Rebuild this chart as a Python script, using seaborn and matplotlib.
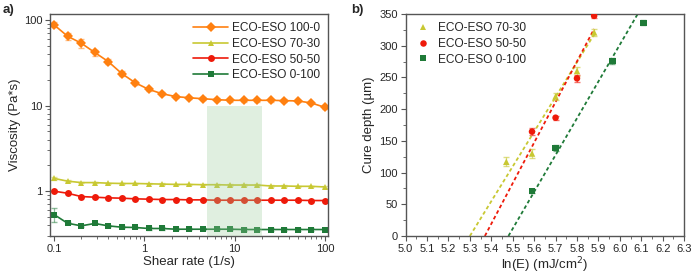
import numpy as np
import pandas as pd
import matplotlib
matplotlib.use("Agg")
import matplotlib.pyplot as plt
import matplotlib.ticker as mticker
import seaborn as sns

# ---- panel a) viscosity vs shear rate ----
shear_rate = [0.1, 0.141, 0.2, 0.282, 0.398, 0.562, 0.794, 1.12, 1.58, 2.24, 3.16,
              4.47, 6.31, 8.91, 12.6, 17.8, 25.1, 35.5, 50.1, 70.8, 100]
visc_100_0 = [87.4, 64.4, 53.4, 41.6, 32.6, 23.6, 18.4, 15.4, 13.7, 12.7, 12.3,
              12.0, 11.7, 11.5, 11.5, 11.5, 11.5, 11.4, 11.3, 10.7, 9.5]
err_100_0 = [6, 5.8, 7, 3.3, 2.3, 1.6, 1.1, 0.6, 0.5, 0.4, 0.4,
             0.4, 0.4, 0.4, 0.4, 0.4, 0.4, 0.4, 0.4, 0.4, 0.3]
visc_70_30 = [1.41, 1.31, 1.26, 1.26, 1.24, 1.23, 1.23, 1.22, 1.21, 1.20, 1.20,
              1.19, 1.19, 1.18, 1.18, 1.18, 1.15, 1.15, 1.14, 1.14, 1.12]
err_70_30 = [0.06, 0.03, 0.02, 0.02, 0.02, 0.02, 0.02, 0.02, 0.02, 0.02, 0.02,
             0.02, 0.02, 0.02, 0.02, 0.02, 0.02, 0.02, 0.02, 0.02, 0.02]
visc_50_50 = [1.0, 0.947, 0.866, 0.851, 0.836, 0.829, 0.814, 0.807, 0.799, 0.799, 0.792,
              0.792, 0.785, 0.785, 0.785, 0.785, 0.785, 0.785, 0.785, 0.778, 0.778]
err_50_50 = [0.02] * 21
visc_0_100 = [0.534, 0.423, 0.394, 0.420, 0.394, 0.380, 0.377, 0.367, 0.367, 0.360, 0.360,
              0.360, 0.360, 0.360, 0.357, 0.357, 0.357, 0.357, 0.357, 0.357, 0.357]
err_0_100 = [0.1] + [0.01] * 20
shade_range = [5, 20]

# ---- panel b) cure depth vs ln(E) ----
lnE_70_30 = [5.47, 5.59, 5.70, 5.80, 5.88]
cd_70_30 = [117, 130, 220, 260, 321]
cderr_70_30 = [7, 7, 6, 7, 5]
lnE_50_50 = [5.59, 5.70, 5.80, 5.88]
cd_50_50 = [164.5, 186.5, 248.5, 347]
cderr_50_50 = [5, 3, 6, 4]
lnE_0_100 = [5.59, 5.70, 5.965, 6.11]
cd_0_100 = [71, 139, 276, 336]
cderr_0_100 = [3, 5, 5, 4]
# working-curve fits: Cd = Dp * (ln E - ln Ec)
fit_lnEc = [5.30, 5.37, 5.48]
fit_Dp = [548, 640, 580]
fit_end = [5.88, 5.88, 6.2]

names = ["ECO-ESO 100-0", "ECO-ESO 70-30", "ECO-ESO 50-50", "ECO-ESO 0-100"]
colors = ["#ff8010", "#c8c832", "#ee1a0a", "#1f7a38"]
markers = ["D", "^", "o", "s"]

sns.set_style("ticks")
plt.rcParams["font.family"] = ["Liberation Sans", "DejaVu Sans"]

fig = plt.figure(figsize=(6.91, 2.74), dpi=100)
axa = fig.add_axes([0.0724, 0.1387, 0.4023, 0.8103])
axb = fig.add_axes([0.587, 0.1387, 0.403, 0.8103])

# panel a
visc = [visc_100_0, visc_70_30, visc_50_50, visc_0_100]
errs = [err_100_0, err_70_30, err_50_50, err_0_100]
df_a = pd.concat([pd.DataFrame({"rate": shear_rate, "visc": v, "err": e, "sample": n})
                  for v, e, n in zip(visc, errs, names)])
sns.lineplot(data=df_a, x="rate", y="visc", hue="sample", style="sample",
             palette=colors, markers=markers, dashes=False, markersize=5,
             markeredgewidth=0, linewidth=1.2, ax=axa, zorder=2)
for (n, g), c in zip(df_a.groupby("sample", sort=False), colors):
    axa.errorbar(g["rate"], g["visc"], yerr=g["err"], fmt="none", ecolor=c,
                 alpha=0.5, elinewidth=0.9, capsize=2, zorder=1)
axa.fill_between(shade_range, 0.3, 10, color="#99cc99", alpha=0.3, lw=0, zorder=3)
axa.set_xscale("log")
axa.set_yscale("log")
axa.set_xlim(0.0903, 108)
axa.set_ylim(0.3, 117)
fmt = mticker.FuncFormatter(lambda v, p: f"{v:g}")
axa.xaxis.set_major_formatter(fmt)
axa.yaxis.set_major_formatter(fmt)
axa.yaxis.set_minor_formatter(mticker.NullFormatter())
axa.set_xlabel("Shear rate (1/s)", fontsize=9.5, labelpad=2)
axa.set_ylabel("Viscosity (Pa*s)", fontsize=9.5, labelpad=2)
axa.legend(loc="upper right", frameon=False, fontsize=8.6, handlelength=2.9,
           borderaxespad=0.3, labelspacing=0.3, handletextpad=0.3)

# panel b
bdata = [(lnE_70_30, cd_70_30, cderr_70_30), (lnE_50_50, cd_50_50, cderr_50_50),
         (lnE_0_100, cd_0_100, cderr_0_100)]
df_b = pd.concat([pd.DataFrame({"lnE": x, "cd": y, "err": e, "sample": n})
                  for (x, y, e), n in zip(bdata, names[1:])])
sns.scatterplot(data=df_b, x="lnE", y="cd", hue="sample", style="sample",
                palette=colors[1:], markers=markers[1:], s=22, linewidth=0,
                ax=axb, zorder=3)
for (n, g), c in zip(df_b.groupby("sample", sort=False), colors[1:]):
    axb.errorbar(g["lnE"], g["cd"], yerr=g["err"], fmt="none", ecolor=c,
                 alpha=0.6, elinewidth=0.9, capsize=2, zorder=2)
for ec, dp, xe, c in zip(fit_lnEc, fit_Dp, fit_end, colors[1:]):
    xx = np.linspace(ec, xe, 50)
    axb.plot(xx, dp * (xx - ec), ls=(0, (2, 1.5)), color=c, lw=1.3, zorder=1)
axb.set_xlim(5.0, 6.3)
axb.set_ylim(0, 350)
axb.xaxis.set_major_locator(mticker.MultipleLocator(0.1))
axb.xaxis.set_minor_locator(mticker.MultipleLocator(0.05))
axb.yaxis.set_major_locator(mticker.MultipleLocator(50))
axb.yaxis.set_minor_locator(mticker.MultipleLocator(25))
axb.xaxis.set_major_formatter(mticker.FormatStrFormatter("%.1f"))
axb.set_xlabel("ln(E) (mJ/cm$^2$)", fontsize=9.5, labelpad=1)
axb.set_ylabel("Cure depth (µm)", fontsize=9.5, labelpad=3)
axb.legend(loc="upper left", frameon=False, fontsize=8.6, handletextpad=0.5,
           handlelength=1.5, borderaxespad=0.3, labelspacing=0.3)

for ax in (axa, axb):
    for s in ax.spines.values():
        s.set_visible(True)
        s.set_color("#555555")
        s.set_linewidth(1.0)
    ax.tick_params(which="major", direction="out", length=3.5, width=0.8,
                   labelsize=8, color="#555555", pad=2)
    ax.tick_params(which="minor", direction="out", length=2, width=0.6, color="#555555")

fig.text(0.004, 0.985, "a)", fontsize=9.5, fontweight="bold", va="top")
fig.text(0.508, 0.985, "b)", fontsize=9.5, fontweight="bold", va="top")

fig.savefig("out.png", dpi=100)
